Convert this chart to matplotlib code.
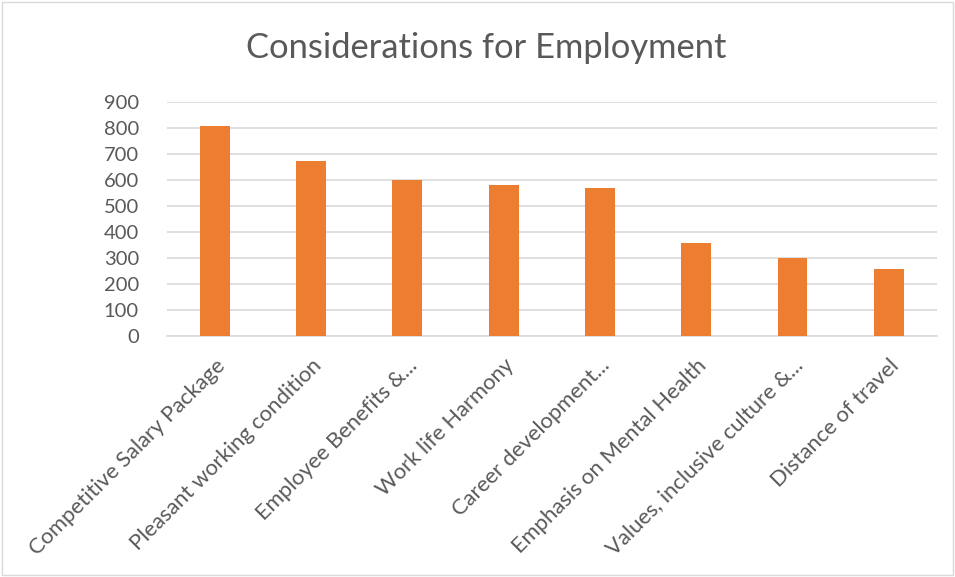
import matplotlib.pyplot as plt
from matplotlib.patches import Rectangle

# Chart data
categories = [
    "Competitive Salary Package",
    "Pleasant working condition",
    "Employee Benefits &...",
    "Work life Harmony",
    "Career development...",
    "Emphasis on Mental Health",
    "Values, inclusive culture &...",
    "Distance of travel",
]
counts = [808, 671, 598, 579, 568, 357, 300, 255]
y_ticks = [0, 100, 200, 300, 400, 500, 600, 700, 800, 900]

plt.rcParams['font.family'] = ['Lato', 'DejaVu Sans']
text_color = '#595959'

fig = plt.figure(figsize=(9.55, 5.77), dpi=100)
ax = fig.add_axes([0.1746, 0.4182, 0.8064, 0.4055])

x = range(len(categories))
ax.bar(x, counts, width=0.31, color='#ED7D31', zorder=3)

ax.set_xlim(-0.5, len(categories) - 0.5)
ax.set_ylim(0, 900)
ax.set_yticks(y_ticks)
ax.set_yticklabels([str(v) for v in y_ticks], fontsize=14.5, color=text_color)
ax.set_xticks(list(x))
ax.set_xticklabels(categories, rotation=45, ha='right', rotation_mode='anchor',
                   fontsize=15.8, color=text_color)
ax.tick_params(axis='both', length=0)
ax.tick_params(axis='y', pad=20)
ax.tick_params(axis='x', pad=14)

ax.grid(axis='y', color='#d9d9d9', linewidth=1.2, zorder=0)
for s in ['top', 'right', 'left']:
    ax.spines[s].set_visible(False)
ax.spines['bottom'].set_color('#d9d9d9')
ax.spines['bottom'].set_linewidth(1.2)

fig.text(0.509, 0.917, "Considerations for Employment", ha='center', va='center',
         fontsize=24.8, color=text_color)

# Chart area border
fig.patches.append(Rectangle((0.002, 0.003), 0.996, 0.994, transform=fig.transFigure,
                             fill=False, edgecolor='#d9d9d9', linewidth=1))

fig.savefig("out.png", dpi=100)
